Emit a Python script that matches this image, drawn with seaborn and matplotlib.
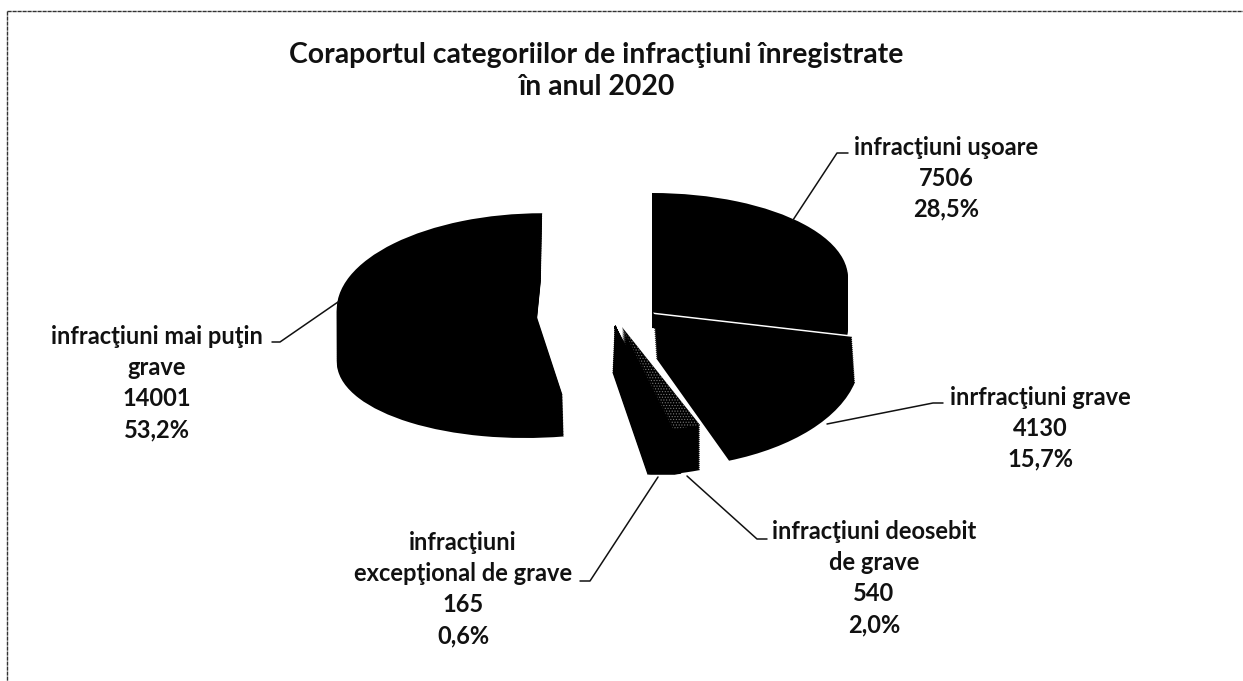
from matplotlib import pyplot as plt
from matplotlib.transforms import Affine2D
import seaborn as sns

title = "Coraportul categoriilor de infracţiuni înregistrate\nîn anul 2020"
categories = ["infracţiuni uşoare", "inrfracţiuni grave", "infracţiuni deosebit\nde grave",
              "infracţiuni\nexcepţional de grave", "infracţiuni mai puţin\ngrave"]
values = [7506, 4130, 540, 165, 14001]
percents = ["28,5%", "15,7%", "2,0%", "0,6%", "53,2%"]

sns.set_theme(style="white")
plt.rcParams['font.family'] = ['Lato', 'DejaVu Sans']
plt.rcParams['hatch.linewidth'] = 0.5

fig = plt.figure(figsize=(12.43, 6.81), dpi=100, facecolor="white")
ax = fig.add_axes([0, 0, 1, 1])


def draw_top(i, cx, cy, rx, ry, color="black", skew=0.0, hatch=None, edge=None, lw=0):
    # one slice of the pie, squashed to an ellipse, in pixel coordinates
    wedges, _ = ax.pie(values, startangle=90, counterclock=False, frame=True,
                       colors=[color] * len(values),
                       wedgeprops=dict(linewidth=lw, edgecolor=edge or color))
    for j, w in enumerate(wedges):
        if j != i:
            w.remove()
    w = wedges[i]
    w.set_transform(Affine2D().scale(rx, -ry).skew(skew, 0).translate(cx, cy) + ax.transData)
    if hatch:
        w.set_hatch(hatch)


def draw_slice(i, cx, cy, rx, ry, skew=0.0, step=2, lw=0):
    # the black side is a stack of copies, from the bottom ellipse up to the top one
    depth = cy[1] - cy[0]
    for dz in range(depth, -1, -step):
        t = dz / depth
        draw_top(i, cx[0] + (cx[1] - cx[0]) * t, cy[0] + dz, rx,
                 ry[0] + (ry[1] - ry[0]) * t, skew=skew, lw=lw, edge="black")


# slice index, centre x (top, bottom), centre y (top, bottom), radius x, radius y (top, bottom)
draw_slice(0, (652, 652), (278, 328), 196, (85, 85))
draw_slice(4, (533, 533), (304, 359), 196, (92, 79), skew=-0.1)
draw_top(1, 653, 312.5, 204, 105, color="white")
draw_slice(1, (653, 656), (314, 358), 204, (105, 110))
for x_low in range(613, 640, 2):
    draw_slice(3, (615, x_low), (326, 372), 178, (104, 104), lw=1)
draw_top(2, 620.5, 327, 218, 105, color="white")
draw_top(2, 624.5, 327, 218, 105, color="white")
draw_slice(2, (622, 622), (327, 372), 218, (105, 105))
draw_top(2, 622, 327, 218, 105, color="black", hatch="......", edge="#777777")

# leader lines
leaders = [([793, 837, 848], [220, 153, 153]),
           ([827, 933, 943], [424, 403, 403]),
           ([687, 757, 767], [476, 539, 539]),
           ([658, 590, 580], [477, 581, 581]),
           ([338, 280, 272], [302, 342, 342])]
for xs, ys in leaders:
    ax.plot(xs, ys, color="#111111", lw=1.1)

# frame of the scanned chart
ax.plot([7, 1243], [11, 11], color="#333333", lw=1.0, ls=(0, (3, 0.6)))
ax.plot([7, 7], [11, 681], color="#333333", lw=1.0, ls=(0, (3, 0.6)))

ax.text(596, 71, title, ha="center", va="center", fontsize=20.4, fontweight="bold",
        color="#111111", linespacing=1.25)

# centre of each label block
label_pos = [(946, 178), (1040, 428), (874, 578), (463, 589), (157, 383)]
for cat, val, pct, (x, y) in zip(categories, values, percents, label_pos):
    ax.text(x, y, f"{cat}\n{val}\n{pct}", ha="center", va="center", fontsize=17,
            fontweight="bold", color="#111111", linespacing=1.42)

ax.set_aspect("auto")
ax.set_xlim(0, 1243)
ax.set_ylim(681, 0)
ax.axis("off")

fig.savefig("out.png", dpi=100)
